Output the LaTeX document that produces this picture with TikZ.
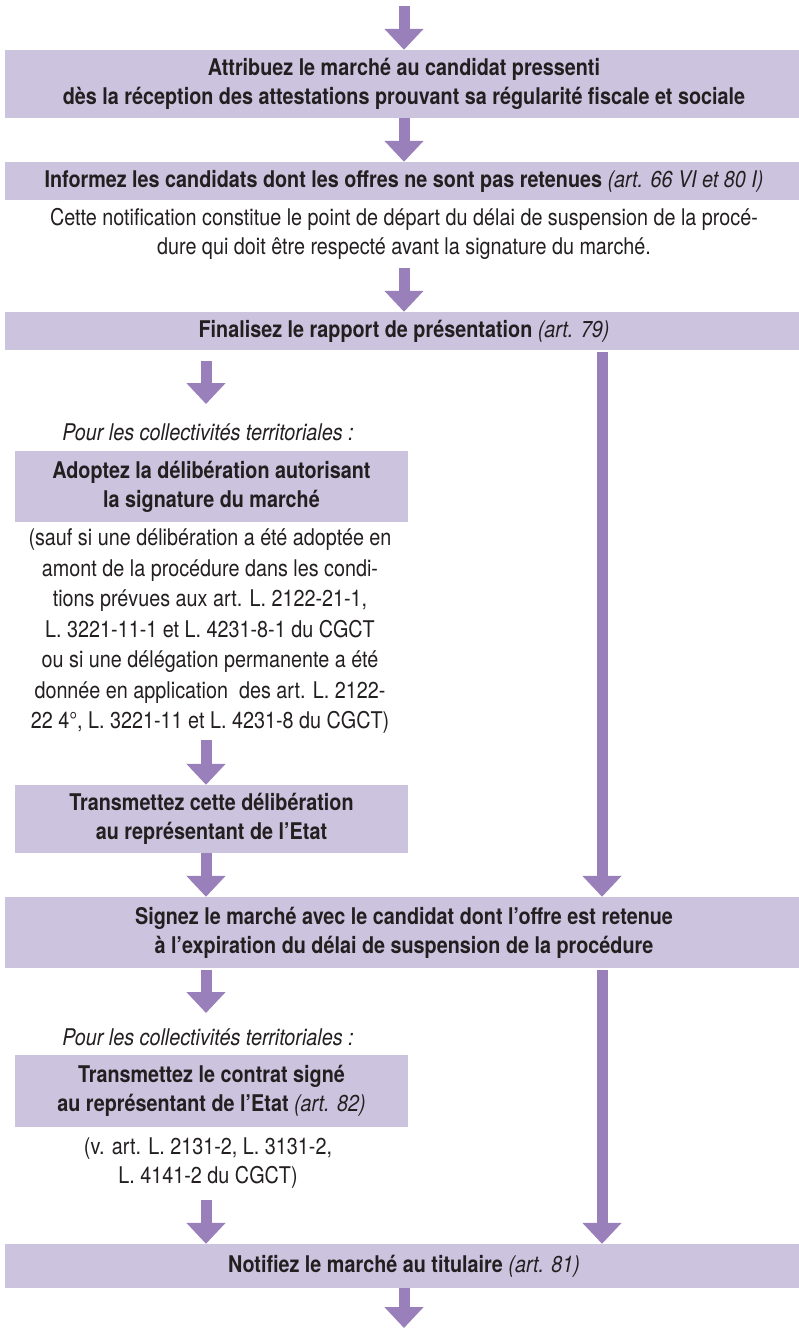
\documentclass[tikz,border=0pt]{standalone}
\usepackage{fontspec}
\setmainfont{TeX Gyre Heros}[FakeStretch=0.86]
\usetikzlibrary{arrows.meta,calc}
\definecolor{boxfill}{HTML}{CCC3DF}
\definecolor{arrowc}{HTML}{9A80BA}
\definecolor{ink}{HTML}{231F20}
\tikzset{
  fullbox/.style={fill=boxfill, minimum width=798pt, inner sep=0pt, align=center,
    font=\fontsize{23}{29}\selectfont\bfseries, text=ink},
  leftbox/.style={fill=boxfill, minimum width=393pt, inner sep=0pt, align=center,
    font=\fontsize{23}{29}\selectfont\bfseries, text=ink},
  note/.style={align=center, inner sep=0pt, text=ink, font=\fontsize{23}{29}\selectfont},
  longnote/.style={align=center, inner sep=0pt, text=ink, font=\fontsize{23}{30.5}\selectfont},
  itnote/.style={inner sep=0pt, text=ink, font=\fontsize{23}{29}\selectfont\itshape},
  fat/.style={draw=arrowc, line width=11pt, -{Triangle[width=38pt,length=21pt]}}
}
\begin{document}
\begin{tikzpicture}[x=1pt,y=-1pt]
\useasboundingbox (0,0) rectangle (798,1328);
\coordinate (lx) at (206,0);
\coordinate (rx) at (602,0);
\coordinate (top) at (404,6);
\coordinate (bot) at (404,1328);

\node[fullbox, minimum height=68pt] (b1) at (404,84)
  {Attribuez le marché au candidat pressenti\\dès la réception des attestations prouvant sa régularité fiscale et sociale};
\node[fullbox, minimum height=38pt] (b2) at (404,181)
  {Informez les candidats dont les offres ne sont pas retenues {\mdseries\itshape (art. 66 VI et 80 I)}};
\node[note] (p1) at (404,234.25)
  {Cette notification constitue le point de départ du délai de suspension de la procé-\\dure qui doit être respecté avant la signature du marché.};
\node[fullbox, minimum height=38pt] (b3) at (404,331)
  {Finalisez le rapport de présentation {\mdseries\itshape (art. 79)}};
\node[itnote] (t1) at (208,432) {Pour les collectivités territoriales :};
\node[leftbox, minimum height=71pt] (b4) at (211.5,486.5)
  {Adoptez la délibération autorisant\\la signature du marché};
\node[longnote] (p2) at (210,631.25)
  {(sauf si une délibération a été adoptée en\\amont de la procédure dans les condi-\\tions prévues aux art. L. 2122-21-1,\\L. 3221-11-1 et L. 4231-8-1 du CGCT\\ou si une délégation permanente a été\\donnée en application\ \ des art. L. 2122-\\22 4°, L. 3221-11 et L. 4231-8 du CGCT)};
\node[leftbox, minimum height=68pt] (b5) at (211.5,819)
  {Transmettez cette délibération\\au représentant de l’Etat};
\node[fullbox, minimum height=71pt] (b6) at (404,932.5)
  {Signez le marché avec le candidat dont l’offre est retenue\\à l’expiration du délai de suspension de la procédure};
\node[itnote] (t2) at (208,1037) {Pour les collectivités territoriales :};
\node[leftbox, minimum height=72pt] (b7) at (211.5,1091)
  {Transmettez le contrat signé\\au représentant de l’Etat {\mdseries\itshape (art. 82)}};
\node[note] (p3) at (208,1163)
  {(v. art. L. 2131-2, L. 3131-2,\\L. 4141-2 du CGCT)};
\node[fullbox, minimum height=44pt] (b8) at (404,1266)
  {Notifiez le marché au titulaire {\mdseries\itshape (art. 81)}};

\draw[fat] (top) -- (b1.north);
\draw[fat] (b1.south) -- (b2.north);
\draw[fat] ($(p1.center)+(0,33.75)$) -- (b3.north);
\draw[fat] ($(b3.south -| lx)+(0,11)$) -- ($(t1.center -| lx)+(0,-28)$);
\draw[fat] ($(p2.center -| lx)+(0,108.75)$) -- (b5.north -| lx);
\draw[fat] (b5.south -| lx) -- (b6.north -| lx);
\draw[fat] ($(b6.south -| lx)+(0,2)$) -- ($(t2.center -| lx)+(0,-24)$);
\draw[fat] ($(p3.center -| lx)+(0,37)$) -- (b8.north -| lx);
\draw[fat] ($(b3.south -| rx)+(0,2)$) -- (b6.north -| rx);
\draw[fat] ($(b6.south -| rx)+(0,2)$) -- (b8.north -| rx);
\draw[fat] (b8.south) -- (bot);
\end{tikzpicture}
\end{document}
